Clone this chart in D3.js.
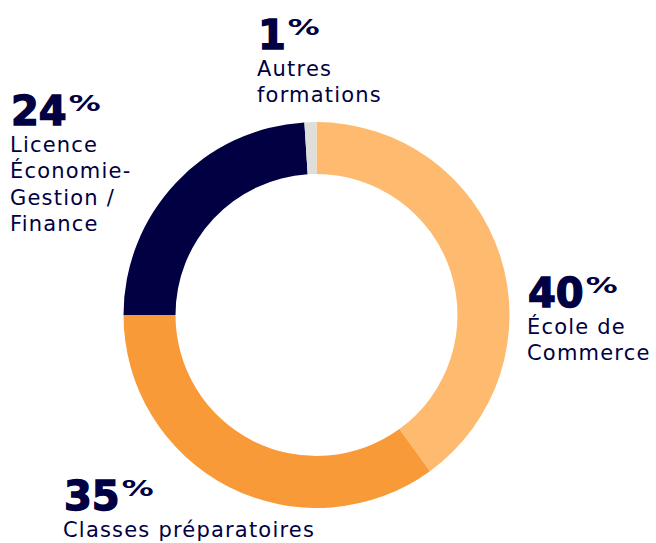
<!DOCTYPE html>
<html>
<head>
<meta charset="utf-8">
<script src="https://cdn.jsdelivr.net/npm/d3@7"></script>
<style>
  html, body { margin: 0; padding: 0; background: #fff; }
  svg { display: block; }
</style>
</head>
<body>
<div class="chart"></div>
<script>
(function() {
	var width = 656,
		height = 543;

	// data, clockwise from 12 o'clock
	var categories = ["École de Commerce", "Classes préparatoires", "Licence Économie-Gestion / Finance", "Autres formations"];
	var values = [40, 35, 24, 1];
	var labelLines = [
		["École de", "Commerce"],
		["Classes préparatoires"],
		["Licence", "Économie-", "Gestion /", "Finance"],
		["Autres", "formations"]
	];

	var colors = ["#FEBB6F", "#F99A38", "#000042", "#DEDEDA"];
	var ink = "#000042";

	// where each label block starts (x, baseline of the big number)
	var labelPos = [[527, 307], [63, 510], [10, 125], [257, 49]];

	var cx = 316.5, cy = 315,
		outer = 193, inner = 141;

	var svg = d3.select(".chart").append("svg")
		.attr("width", width)
		.attr("height", height);

	var pie = d3.pie().sort(null).value(function(d) { return d; });
	var arc = d3.arc().innerRadius(inner).outerRadius(outer);

	var color = d3.scaleOrdinal().domain(categories).range(colors);

	svg.append("g")
		.attr("transform", "translate(" + cx + "," + cy + ")")
		.selectAll("path")
		.data(pie(values))
		.enter().append("path")
		.attr("d", arc)
		.style("fill", function(d, i) { return color(categories[i]); });

	var label = svg.selectAll("g.label")
		.data(values)
		.enter().append("g")
		.attr("class", "label")
		.attr("transform", function(d, i) { return "translate(" + labelPos[i] + ")"; });

	label.append("text")
		.style("font-family", "'DejaVu Sans'")
		.style("font-weight", "bold")
		.style("font-size", "40px")
		.style("fill", ink)
		.style("stroke", ink)
		.style("stroke-width", 1.4)
		.attr("x", 1)
		.text(function(d) { return d; });

	// superscript percent sign, a bit stretched
	label.append("text")
		.style("font-family", "'DejaVu Sans'")
		.style("font-weight", "bold")
		.style("font-size", "22px")
		.style("fill", ink)
		.attr("transform", function() {
			var w = this.parentNode.querySelector("text").getComputedTextLength();
			return "translate(" + (w + 3) + ",-14) scale(1.45,1)";
		})
		.text("%");

	label.append("text")
		.style("font-family", "'DejaVu Sans'")
		.style("font-size", "21px")
		.style("letter-spacing", "1.2px")
		.style("fill", ink)
		.selectAll("tspan")
		.data(function(d, i) { return labelLines[i]; })
		.enter().append("tspan")
		.attr("x", 0)
		.attr("y", function(d, j) { return 27 + j * 26.3; })
		.text(function(d) { return d; });
})();
</script>
</body>
</html>
